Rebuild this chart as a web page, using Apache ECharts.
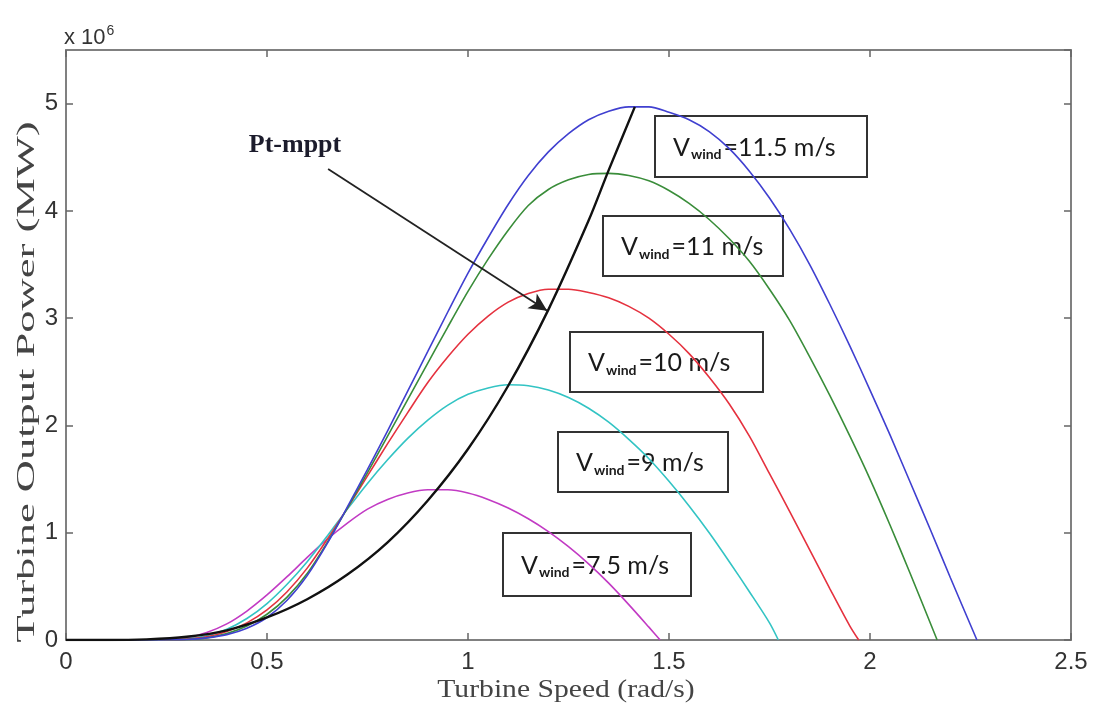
<!DOCTYPE html>
<html>
<head>
<meta charset="utf-8">
<script src="https://cdn.jsdelivr.net/npm/echarts@6/dist/echarts.min.js"></script>
<style>
  html, body { margin: 0; padding: 0; background: #fff; }
  #chart { width: 1097px; height: 711px; }
</style>
</head>
<body>
<div id="chart"></div>
<script>
// axis ticks
const xTicks = [0, 0.5, 1, 1.5, 2, 2.5];
const yTicks = [0, 1, 2, 3, 4, 5];

// wind speed labels (m/s)
const windLabels = ["11.5", "11", "10", "9", "7.5"];

// turbine speed (rad/s) / power (x10^6)
const speed75 = [0, 0.1, 0.2, 0.25, 0.3, 0.35, 0.4, 0.45, 0.5, 0.55, 0.6, 0.65, 0.7, 0.75, 0.8, 0.85, 0.9, 0.95, 1.0, 1.05, 1.1, 1.15, 1.2, 1.25, 1.3, 1.35, 1.4, 1.45, 1.478];
const power75 = [0, 0, 0.002, 0.006, 0.02, 0.07, 0.15, 0.27, 0.42, 0.59, 0.77, 0.94, 1.09, 1.22, 1.31, 1.37, 1.40, 1.40, 1.37, 1.31, 1.23, 1.13, 1.01, 0.87, 0.71, 0.53, 0.33, 0.12, 0];

const speed9 = [0, 0.1, 0.2, 0.25, 0.3, 0.35, 0.4, 0.45, 0.5, 0.55, 0.6, 0.65, 0.7, 0.75, 0.8, 0.85, 0.9, 0.95, 1.0, 1.05, 1.1, 1.15, 1.2, 1.25, 1.3, 1.35, 1.4, 1.45, 1.5, 1.55, 1.6, 1.65, 1.7, 1.75, 1.772];
const power9 = [0, 0, 0.001, 0.004, 0.012, 0.04, 0.10, 0.20, 0.34, 0.52, 0.73, 0.97, 1.22, 1.46, 1.68, 1.88, 2.05, 2.19, 2.29, 2.35, 2.38, 2.37, 2.33, 2.26, 2.16, 2.03, 1.87, 1.69, 1.48, 1.25, 1.00, 0.73, 0.45, 0.16, 0];

const speed10 = [0, 0.1, 0.2, 0.25, 0.3, 0.35, 0.4, 0.45, 0.5, 0.55, 0.6, 0.65, 0.7, 0.75, 0.8, 0.85, 0.9, 0.95, 1.0, 1.05, 1.1, 1.15, 1.2, 1.25, 1.3, 1.35, 1.4, 1.45, 1.5, 1.55, 1.6, 1.65, 1.7, 1.75, 1.8, 1.85, 1.9, 1.95, 1.972];
const power10 = [0, 0, 0.001, 0.003, 0.008, 0.03, 0.08, 0.16, 0.28, 0.45, 0.67, 0.94, 1.23, 1.53, 1.83, 2.12, 2.40, 2.64, 2.85, 3.02, 3.15, 3.23, 3.27, 3.27, 3.24, 3.19, 3.11, 3.00, 2.85, 2.67, 2.45, 2.20, 1.90, 1.55, 1.20, 0.84, 0.48, 0.13, 0];

const speed11 = [0, 0.1, 0.2, 0.25, 0.3, 0.35, 0.4, 0.45, 0.5, 0.55, 0.6, 0.65, 0.7, 0.75, 0.8, 0.85, 0.9, 0.95, 1.0, 1.05, 1.1, 1.15, 1.2, 1.25, 1.3, 1.35, 1.4, 1.45, 1.5, 1.55, 1.6, 1.65, 1.7, 1.75, 1.8, 1.85, 1.9, 1.95, 2.0, 2.05, 2.1, 2.167];
const power11 = [0, 0, 0.001, 0.002, 0.005, 0.02, 0.06, 0.13, 0.24, 0.40, 0.62, 0.91, 1.23, 1.56, 1.90, 2.24, 2.58, 2.92, 3.25, 3.55, 3.82, 4.05, 4.20, 4.29, 4.34, 4.35, 4.33, 4.28, 4.19, 4.07, 3.92, 3.74, 3.53, 3.27, 2.98, 2.64, 2.28, 1.90, 1.50, 1.07, 0.62, 0];

const speed115 = [0, 0.1, 0.2, 0.25, 0.3, 0.35, 0.4, 0.45, 0.5, 0.55, 0.6, 0.65, 0.7, 0.75, 0.8, 0.85, 0.9, 0.95, 1.0, 1.05, 1.1, 1.15, 1.2, 1.25, 1.3, 1.35, 1.4, 1.45, 1.5, 1.55, 1.6, 1.65, 1.7, 1.75, 1.8, 1.85, 1.9, 1.95, 2.0, 2.05, 2.1, 2.15, 2.2, 2.266];
const power115 = [0, 0, 0.001, 0.002, 0.005, 0.02, 0.05, 0.11, 0.21, 0.37, 0.60, 0.90, 1.24, 1.59, 1.95, 2.32, 2.69, 3.06, 3.42, 3.75, 4.06, 4.33, 4.55, 4.72, 4.85, 4.93, 4.97, 4.97, 4.92, 4.85, 4.74, 4.58, 4.37, 4.12, 3.83, 3.50, 3.13, 2.74, 2.33, 1.91, 1.47, 1.03, 0.58, 0];

// maximum power point track
const speedMppt = [0, 0.1, 0.2, 0.3, 0.4, 0.5, 0.6, 0.7, 0.8, 0.9, 1.0, 1.1, 1.2, 1.3, 1.35, 1.415];
const powerMppt = [0, 0, 0.006, 0.03, 0.09, 0.21, 0.38, 0.61, 0.91, 1.30, 1.78, 2.37, 3.08, 3.91, 4.38, 4.97];

// annotation arrow (data coords)
const arrowFrom = [0.652, 4.39];
const arrowTo = [1.197, 3.07];

const pairs = (xs, ys) => xs.map((x, i) => [x, ys[i]]);

const chart = echarts.init(document.getElementById("chart"));

const curve = (name, xs, ys, color, width) => ({
  name: name,
  type: "line",
  data: pairs(xs, ys),
  showSymbol: false,
  smooth: 0.3,
  lineStyle: { color: color, width: width },
  itemStyle: { color: color },
  animation: false,
  z: 3,
});

// label boxes (pixel layout)
const boxes = [
  { x: 655, y: 116, w: 212, h: 61 },
  { x: 603, y: 216, w: 180, h: 60 },
  { x: 570, y: 332, w: 193, h: 60 },
  { x: 558, y: 432, w: 170, h: 60 },
  { x: 503, y: 533, w: 188, h: 63 },
];

const boxGraphics = boxes.map((b, i) => ({
  type: "group",
  z: 100,
  children: [
    {
      type: "rect",
      shape: { x: b.x, y: b.y, width: b.w, height: b.h },
      style: { fill: "#fff", stroke: "#333", lineWidth: 2 },
    },
    {
      type: "text",
      x: b.x + 18,
      y: b.y + b.h / 2 + 1,
      style: {
        text: "{v|V}{s|wind}{v|=" + windLabels[i] + " m/s}",
        verticalAlign: "middle",
        rich: {
          v: { fontFamily: "Lato", fontSize: 25, fill: "#1a1a1a" },
          s: { fontFamily: "Lato", fontSize: 14, fontWeight: "bold", fill: "#1a1a1a", padding: [14, 2, 0, 1] },
        },
      },
    },
  ],
}));

const labelFont = { fontFamily: "Liberation Sans", fontSize: 24, color: "#333" };

chart.setOption({
  backgroundColor: "#fff",
  animation: false,
  grid: { left: 66, right: 26, top: 50, bottom: 71 },
  xAxis: [
    {
      type: "value",
      min: 0,
      max: 2.5,
      interval: 0.5,
      axisLine: { show: true, onZero: false, lineStyle: { color: "#808080", width: 2 } },
      axisTick: { inside: true, length: 7, lineStyle: { color: "#666", width: 1.5 } },
      splitLine: { show: false },
      axisLabel: Object.assign({ margin: 10, formatter: (v) => (xTicks.includes(v) ? String(v) : "") }, labelFont),
    },
    {
      type: "value",
      position: "top",
      min: 0,
      max: 2.5,
      interval: 0.5,
      axisLine: { show: true, onZero: false, lineStyle: { color: "#808080", width: 2 } },
      axisTick: { inside: true, length: 7, lineStyle: { color: "#666", width: 1.5 } },
      axisLabel: { show: false },
      splitLine: { show: false },
    },
  ],
  yAxis: [
    {
      type: "value",
      min: 0,
      max: 5.5,
      interval: 1,
      axisLine: { show: true, onZero: false, lineStyle: { color: "#808080", width: 2 } },
      axisTick: { inside: true, length: 7, lineStyle: { color: "#666", width: 1.5 } },
      splitLine: { show: false },
      axisLabel: Object.assign({ margin: 8, showMaxLabel: false, formatter: (v) => (yTicks.includes(v) ? String(v) : "") }, labelFont),
    },
    {
      type: "value",
      position: "right",
      min: 0,
      max: 5.5,
      interval: 1,
      axisLine: { show: true, onZero: false, lineStyle: { color: "#808080", width: 2 } },
      axisTick: { inside: true, length: 7, lineStyle: { color: "#666", width: 1.5 } },
      axisLabel: { show: false },
      splitLine: { show: false },
    },
  ],
  series: [
    curve("7.5 m/s", speed75, power75, "#c23bc4", 1.6),
    curve("9 m/s", speed9, power9, "#33c4c4", 1.6),
    curve("10 m/s", speed10, power10, "#e5323f", 1.6),
    curve("11 m/s", speed11, power11, "#3a8d3a", 1.6),
    curve("11.5 m/s", speed115, power115, "#4040d0", 1.6),
    Object.assign(curve("Pt-mppt", speedMppt, powerMppt, "#111", 2.4), {
      z: 4,
      markLine: {
        silent: true,
        symbol: ["none", "arrow"],
        symbolSize: [13, 18],
        label: { show: false },
        lineStyle: { color: "#222", width: 1.8, type: "solid" },
        data: [[{ coord: arrowFrom }, { coord: arrowTo }]],
      },
    }),
  ],
  graphic: [
    {
      type: "text",
      x: 64,
      y: 24,
      style: {
        text: "x 10{sup|6}",
        fontFamily: "Liberation Sans",
        fontSize: 22,
        fill: "#333",
        rich: { sup: { fontFamily: "Liberation Sans", fontSize: 14, fill: "#333", padding: [0, 0, 14, 1] } },
      },
    },
    {
      type: "text",
      x: 27,
      y: 382,
      rotation: Math.PI / 2,
      scaleX: 1.78,
      style: {
        text: "Turbine Output Power (MW)",
        fontFamily: "Liberation Serif",
        fontSize: 25,
        fill: "#444",
        align: "center",
        verticalAlign: "middle",
      },
    },
    {
      type: "text",
      x: 566,
      y: 690,
      scaleX: 1.14,
      style: {
        text: "Turbine Speed (rad/s)",
        fontFamily: "Liberation Serif",
        fontSize: 26,
        fill: "#444",
        align: "center",
        verticalAlign: "middle",
      },
    },
    {
      type: "text",
      x: 295,
      y: 145,
      z: 100,
      style: {
        text: "Pt-mppt",
        fontFamily: "Liberation Serif",
        fontWeight: "bold",
        fontSize: 26,
        fill: "#1c1c2c",
        align: "center",
        verticalAlign: "middle",
      },
    },
  ].concat(boxGraphics),
});
</script>
</body>
</html>
